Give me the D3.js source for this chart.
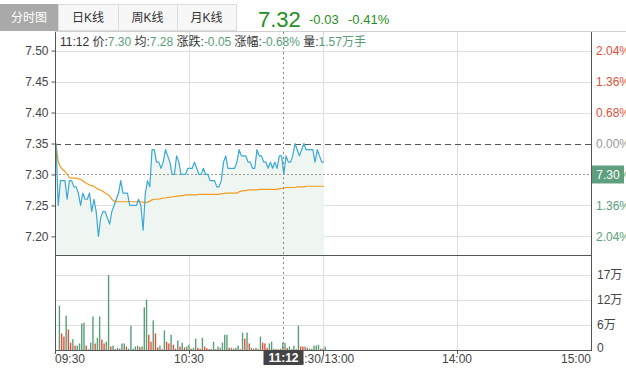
<!DOCTYPE html>
<html>
<head>
<meta charset="utf-8">
<script src="https://cdn.jsdelivr.net/npm/d3@7"></script>
<style>
body { margin: 0; background: #fff; }
svg text { font-family: "Liberation Sans", "Noto Sans CJK SC", sans-serif; }
</style>
</head>
<body>
<div id="chart"></div>
<script>
var W = 626, H = 373,
	prevClose = 7.35,
	crossMin = 102;

var tabs = ["分时图", "日K线", "周K线", "月K线"];
var timeLabels = ["09:30", "10:30", "11:30/13:00", "14:00", "15:00"];
var timeTicks = [0, 60, 120, 180, 240];
var priceTicks = [7.50, 7.45, 7.40, 7.35, 7.30, 7.25, 7.20];
var pctLabels = ["2.04%", "1.36%", "0.68%", "0.00%", "0.68%", "1.36%", "2.04%"];
var volTicks = [5.75, 11.5, 17.25];

// 1-minute prices 09:30 .. 11:30
var prices = [
	7.35, 7.25, 7.29, 7.29, 7.29, 7.26, 7.29, 7.29, 7.28, 7.28,
	7.27, 7.25, 7.27, 7.26, 7.26, 7.27, 7.24, 7.26, 7.24, 7.20,
	7.23, 7.24, 7.24, 7.23, 7.22, 7.24, 7.25, 7.26, 7.27, 7.29,
	7.27, 7.27, 7.27, 7.25, 7.25, 7.25, 7.25, 7.26, 7.25, 7.21,
	7.27, 7.29, 7.28, 7.34, 7.34, 7.32, 7.32, 7.31, 7.32, 7.34,
	7.33, 7.32, 7.30, 7.30, 7.33, 7.32, 7.30, 7.30, 7.30, 7.31,
	7.31, 7.31, 7.32, 7.31, 7.30, 7.30, 7.31, 7.30, 7.30, 7.29,
	7.29, 7.29, 7.28, 7.28, 7.29, 7.32, 7.33, 7.31, 7.31, 7.31,
	7.31, 7.32, 7.34, 7.33, 7.33, 7.33, 7.32, 7.32, 7.31, 7.31,
	7.34, 7.33, 7.33, 7.32, 7.32, 7.31, 7.32, 7.31, 7.32, 7.31,
	7.33, 7.33, 7.30, 7.33, 7.32, 7.32, 7.33, 7.35, 7.34, 7.33,
	7.34, 7.35, 7.34, 7.34, 7.34, 7.34, 7.32, 7.34, 7.33, 7.32,
	7.32
];

var avgPrices = [
	7.350, 7.320, 7.312, 7.308, 7.305, 7.300, 7.295, 7.294, 7.294, 7.294,
	7.293, 7.292, 7.290, 7.287, 7.285, 7.283, 7.282, 7.281, 7.278, 7.276,
	7.275, 7.273, 7.270, 7.268, 7.265, 7.260, 7.257, 7.256, 7.256, 7.256,
	7.256, 7.256, 7.256, 7.256, 7.256, 7.256, 7.256, 7.256, 7.256, 7.255,
	7.255, 7.255, 7.257, 7.259, 7.260, 7.260, 7.260, 7.261, 7.262, 7.262,
	7.263, 7.263, 7.264, 7.264, 7.265, 7.265, 7.266, 7.266, 7.267, 7.267,
	7.267, 7.267, 7.267, 7.267, 7.268, 7.268, 7.268, 7.268, 7.268, 7.268,
	7.268, 7.268, 7.268, 7.268, 7.269, 7.269, 7.270, 7.270, 7.270, 7.270,
	7.270, 7.270, 7.272, 7.273, 7.274, 7.274, 7.275, 7.275, 7.275, 7.275,
	7.275, 7.276, 7.276, 7.276, 7.276, 7.276, 7.276, 7.276, 7.276, 7.276,
	7.277, 7.277, 7.278, 7.279, 7.279, 7.279, 7.279, 7.279, 7.280, 7.280,
	7.280, 7.280, 7.281, 7.281, 7.281, 7.281, 7.281, 7.281, 7.281, 7.281,
	7.281
];

// volume per minute, in 万
var volumes = [
	0, 10.2, 3.8, 3.1, 7.9, 4.7, 1.7, 2.5, 1.0, 1.0,
	1.5, 6.1, 6.3, 1.0, 0.2, 1.7, 7.7, 1.5, 2.8, 7.7,
	2.4, 1.5, 1.9, 17.2, 0.8, 1.0, 0.2, 0.5, 0.3, 1.5,
	1.5, 0.8, 0.3, 5.6, 0.3, 0.8, 1.0, 0.7, 0.8, 9.8,
	11.6, 3.5, 1.9, 6.8, 3.8, 0.6, 1.0, 0.2, 4.5, 1.9,
	1.5, 3.5, 1.2, 0.3, 2.2, 0.8, 1.7, 0.6, 0.8, 1.2,
	0.3, 0.5, 2.6, 0.5, 0.3, 2.8, 0.8, 0.4, 0.2, 0.3,
	1.9, 0.2, 0.8, 0.5, 1.7, 3.5, 3.5, 0.5, 0.5, 0.3,
	0.5, 1.0, 0.2, 4.0, 2.6, 4.0, 1.5, 0.5, 0.3, 0.5,
	0.2, 3.1, 1.7, 1.5, 0.5, 1.5, 1.9, 0.3, 0.2, 0.2,
	0.3, 1.7, 1.6, 0.5, 0.8, 0.2, 1.0, 0.2, 5.6, 0.8,
	0.8, 0.8, 0.5, 0.3, 0.3, 1.0, 1.0, 1.2, 0.3, 0.3,
	0.8
];

// 1 = up (red), -1 = down (green)
var volDir = [
	-1, -1, 1, 1, -1, 1, 1, -1, 1, -1,
	-1, -1, -1, 1, -1, -1, -1, 1, -1, -1,
	1, 1, -1, -1, 1, -1, 1, -1, 1, -1,
	-1, 1, -1, -1, -1, -1, -1, 1, -1, -1,
	-1, 1, 1, -1, 1, 1, -1, 1, -1, 1,
	1, -1, 1, 1, -1, 1, -1, 1, -1, -1,
	1, -1, -1, 1, 1, -1, 1, 1, 1, -1,
	-1, 1, -1, -1, -1, -1, -1, 1, -1, 1,
	-1, -1, 1, -1, 1, -1, 1, -1, 1, -1,
	1, -1, 1, 1, 1, -1, -1, -1, 1, -1,
	1, -1, -1, 1, -1, -1, -1, 1, -1, 1,
	1, -1, 1, -1, -1, -1, -1, -1, 1, -1,
	-1
];

var infoParts = [
	{t: "11:12 价:", c: "#333"}, {t: "7.30", c: "#5a9e7a"},
	{t: " 均:", c: "#333"}, {t: "7.28", c: "#5a9e7a"},
	{t: " 涨跌:", c: "#333"}, {t: "-0.05", c: "#5a9e7a"},
	{t: " 涨幅:", c: "#333"}, {t: "-0.68%", c: "#5a9e7a"},
	{t: " 量:", c: "#333"}, {t: "1.57万手", c: "#5a9e7a"}
];

var plotLeft = 55, plotRight = 591, plotTop = 32, priceBottom = 255, volBottom = 350;

var svg = d3.select("#chart").append("svg")
	.attr("width", W)
	.attr("height", H);

var x = d3.scaleLinear().domain([0, 240]).range([plotLeft, plotRight]),
	y = d3.scaleLinear().domain([7.17, 7.53]).range([priceBottom, plotTop]),
	yVol = d3.scaleLinear().domain([0, 23]).range([volBottom, 250]);

var red = "#e0503a", green = "#5a9e7a";

// ---------- tabs / header ----------
var tabX = [0, 58, 118, 177], tabW = [58, 60, 59, 59];
tabs.forEach(function(t, i) {
	svg.append("rect")
		.attr("x", tabX[i] + 0.5).attr("y", 4.5)
		.attr("width", tabW[i]).attr("height", 26)
		.attr("fill", i == 0 ? "#a9a9a9" : "#f7f7f7")
		.attr("stroke", i == 0 ? "#a9a9a9" : "#dcdcdc");
	svg.append("text")
		.attr("x", tabX[i] + tabW[i] / 2).attr("y", 22)
		.attr("text-anchor", "middle")
		.attr("font-size", 12)
		.attr("fill", i == 0 ? "#fff" : "#333")
		.text(t);
});

svg.append("text").attr("x", 258).attr("y", 27)
	.attr("font-size", 22).attr("fill", "#1f8f22").text("7.32");
svg.append("text").attr("x", 309).attr("y", 24)
	.attr("font-size", 13).attr("fill", "#1f8f22").text("-0.03");
svg.append("text").attr("x", 348).attr("y", 24)
	.attr("font-size", 13).attr("fill", "#1f8f22").text("-0.41%");

// ---------- grid ----------
svg.append("line")
	.attr("x1", plotLeft).attr("x2", W).attr("y1", 31.5).attr("y2", 31.5)
	.attr("stroke", "#d0d0d0");

svg.selectAll(".hgrid").data(priceTicks.filter(function(d) { return d != prevClose && d != 7.30; }))
	.enter().append("line")
	.attr("class", "hgrid")
	.attr("x1", plotLeft).attr("x2", plotRight)
	.attr("y1", function(d) { return Math.round(y(d)) + 0.5; })
	.attr("y2", function(d) { return Math.round(y(d)) + 0.5; })
	.attr("stroke", "#dedede");

svg.selectAll(".vgrid").data(timeTicks.slice(1, 4))
	.enter().append("line")
	.attr("class", "vgrid")
	.attr("x1", function(d) { return Math.round(x(d)) + 0.5; })
	.attr("x2", function(d) { return Math.round(x(d)) + 0.5; })
	.attr("y1", plotTop).attr("y2", volBottom)
	.attr("stroke", "#dedede");

svg.selectAll(".volgrid").data(volTicks)
	.enter().append("line")
	.attr("class", "volgrid")
	.attr("x1", plotLeft).attr("x2", plotRight)
	.attr("y1", function(d) { return Math.round(yVol(d)) + 0.5; })
	.attr("y2", function(d) { return Math.round(yVol(d)) + 0.5; })
	.attr("stroke", "#dedede");

// ---------- price area + lines ----------
var area = d3.area()
	.x(function(d, i) { return x(i) + 1; })
	.y0(priceBottom)
	.y1(function(d) { return y(d); });

svg.append("path")
	.datum(prices)
	.attr("fill", "#eff6f1")
	.attr("d", area);

var yClose = Math.round(y(prevClose)) + 0.5;
svg.append("line")
	.attr("x1", plotLeft).attr("x2", plotRight).attr("y1", yClose).attr("y2", yClose)
	.attr("stroke", "#555").attr("stroke-dasharray", "6,4");

var yLast = Math.round(y(7.30)) + 0.5;
svg.append("line")
	.attr("x1", plotLeft).attr("x2", plotRight).attr("y1", yLast).attr("y2", yLast)
	.attr("stroke", "#999").attr("stroke-dasharray", "2,2");

var priceLine = d3.line()
	.x(function(d, i) { return x(i) + 1; })
	.y(function(d) { return y(d); });

svg.append("path")
	.datum(avgPrices)
	.attr("fill", "none")
	.attr("stroke", "#f39a1f")
	.attr("stroke-width", 1.2)
	.attr("d", priceLine);

svg.append("path")
	.datum(prices)
	.attr("fill", "none")
	.attr("stroke", "#3aa8d8")
	.attr("stroke-width", 1.2)
	.attr("stroke-linejoin", "round")
	.attr("d", priceLine);

// ---------- volume ----------
svg.selectAll(".vol").data(volumes)
	.enter().append("rect")
	.attr("class", "vol")
	.attr("x", function(d, i) { return x(i) + 1.5; })
	.attr("y", function(d) { return yVol(d); })
	.attr("width", 1.4)
	.attr("height", function(d) { return volBottom - yVol(d); })
	.attr("fill", function(d, i) { return volDir[i] > 0 ? red : green; });

// ---------- frame ----------
svg.append("line").attr("x1", plotLeft + 0.5).attr("x2", plotLeft + 0.5)
	.attr("y1", plotTop).attr("y2", volBottom + 4).attr("stroke", "#555");
svg.append("line").attr("x1", plotRight + 0.5).attr("x2", plotRight + 0.5)
	.attr("y1", plotTop).attr("y2", volBottom).attr("stroke", "#555");
svg.append("line").attr("x1", plotLeft).attr("x2", plotRight + 1)
	.attr("y1", priceBottom + 0.5).attr("y2", priceBottom + 0.5).attr("stroke", "#555");
svg.append("line").attr("x1", plotLeft).attr("x2", plotRight + 1)
	.attr("y1", volBottom + 0.5).attr("y2", volBottom + 0.5).attr("stroke", "#555");

// left price axis
var yAxis = d3.axisLeft(y)
	.tickValues(priceTicks)
	.tickSize(4)
	.tickSizeOuter(0)
	.tickFormat(d3.format(".2f"));

var gy = svg.append("g")
	.attr("transform", "translate(" + (plotLeft + 0.5) + ",0)")
	.call(yAxis);
gy.select(".domain").remove();
gy.selectAll("line").attr("stroke", "#555");
gy.selectAll("text").attr("font-size", 12).attr("fill", "#444")
	.style("font-family", "'Liberation Sans', sans-serif");

// right percent labels
svg.selectAll(".pct").data(priceTicks)
	.enter().append("text")
	.attr("class", "pct")
	.attr("x", plotRight + 5)
	.attr("y", function(d) { return y(d); })
	.attr("dy", "0.35em")
	.attr("font-size", 12)
	.attr("fill", function(d) { return d > prevClose ? red : (d == prevClose ? "#999" : green); })
	.text(function(d, i) { return pctLabels[i]; });

svg.append("rect")
	.attr("x", plotRight + 1).attr("y", y(7.30) - 9)
	.attr("width", 32).attr("height", 18)
	.attr("fill", "#5f9f7e");
svg.append("text")
	.attr("x", plotRight + 17).attr("y", y(7.30))
	.attr("dy", "0.35em")
	.attr("text-anchor", "middle")
	.attr("font-size", 12)
	.attr("fill", "#fff")
	.text("7.30");

// right volume labels
svg.selectAll(".vlab").data([0].concat(volTicks))
	.enter().append("text")
	.attr("class", "vlab")
	.attr("x", plotRight + 6)
	.attr("y", function(d) { return yVol(d) - (d == 0 ? 2 : 0); })
	.attr("dy", "0.35em")
	.attr("font-size", 12)
	.attr("fill", "#444")
	.text(function(d) { return d == 0 ? "0" : Math.round(d) + "万"; });

// time axis
svg.selectAll(".tlab").data(timeTicks)
	.enter().append("text")
	.attr("class", "tlab")
	.attr("x", function(d) { return x(d); })
	.attr("y", 363)
	.attr("font-size", 12)
	.attr("fill", "#444")
	.attr("text-anchor", function(d, i) { return i == 0 ? "start" : (i == timeTicks.length - 1 ? "end" : "middle"); })
	.text(function(d, i) { return timeLabels[i]; });

svg.selectAll(".ttick").data(timeTicks.slice(1, 4))
	.enter().append("line")
	.attr("class", "ttick")
	.attr("x1", function(d) { return Math.round(x(d)) + 0.5; })
	.attr("x2", function(d) { return Math.round(x(d)) + 0.5; })
	.attr("y1", volBottom).attr("y2", volBottom + 4)
	.attr("stroke", "#555");

// ---------- crosshair ----------
var xc = Math.round(x(crossMin)) + 0.5;
svg.append("line")
	.attr("x1", xc).attr("x2", xc).attr("y1", plotTop).attr("y2", volBottom)
	.attr("stroke", "#888").attr("stroke-dasharray", "2,3");

svg.append("rect")
	.attr("x", xc - 20).attr("y", volBottom)
	.attr("width", 40).attr("height", 15)
	.attr("fill", "#444");
svg.append("text")
	.attr("x", xc).attr("y", volBottom + 12)
	.attr("text-anchor", "middle")
	.attr("font-size", 12)
	.attr("font-weight", "bold")
	.attr("fill", "#fff")
	.text("11:12");

// ---------- info line ----------
var info = svg.append("text")
	.attr("x", 60).attr("y", 46)
	.attr("font-size", 12);
info.selectAll("tspan").data(infoParts)
	.enter().append("tspan")
	.attr("fill", function(d) { return d.c; })
	.text(function(d) { return d.t; });
</script>
</body>
</html>
